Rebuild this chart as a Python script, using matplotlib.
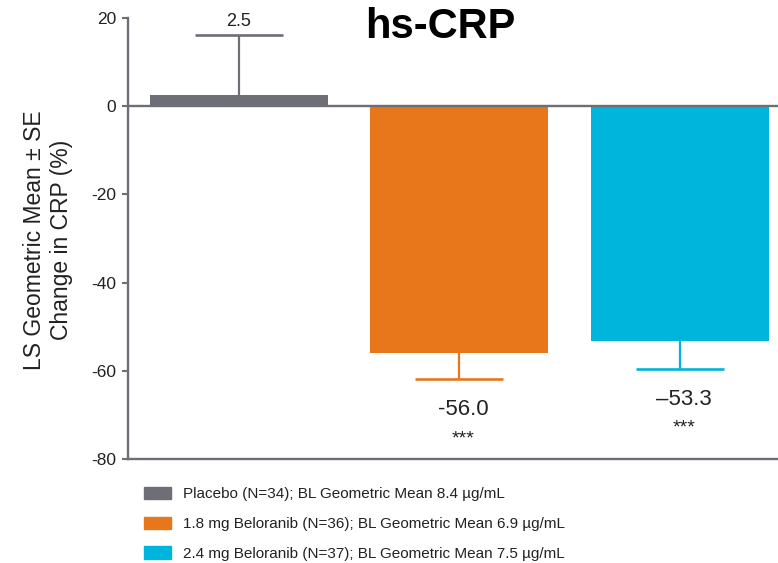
import matplotlib
matplotlib.use("Agg")
import matplotlib.pyplot as plt
import numpy as np

plt.rcParams['font.family'] = ['Liberation Sans', 'DejaVu Sans']

groups = ["Placebo (N=34); BL Geometric Mean 8.4 \u00b5g/mL",
          "1.8 mg Beloranib (N=36); BL Geometric Mean 6.9 \u00b5g/mL",
          "2.4 mg Beloranib (N=37); BL Geometric Mean 7.5 \u00b5g/mL"]
means = [2.5, -56.0, -53.3]
se = [13.6, 5.9, 6.2]
value_labels = ["2.5", "-56.0", "\u201353.3"]
sig = ["", "***", "***"]
colors = ["#6D6E76", "#E8761B", "#00B5DC"]
yticks = [20, 0, -20, -40, -60, -80]

W, H = 778, 563
fig = plt.figure(figsize=(W / 100, H / 100), dpi=100)
ax = fig.add_axes([128 / W, 1 - 459 / H, 1 - 128 / W, (459 - 18) / H])

x = np.arange(len(means))
spine_col = "#6D6E76"
ax.bar(x, means, width=0.807, color=colors, zorder=2)
for xi, m, e, c in zip(x, means, se, colors):
    end = m + e if m >= 0 else m - e
    yerr = [[0], [e]] if m >= 0 else [[e], [0]]
    ax.errorbar([xi], [m], yerr=yerr, fmt='none', ecolor=c, elinewidth=1.6,
                capsize=0, zorder=1)
    ax.plot([xi], [end], marker='_', markersize=63, markeredgewidth=1.9,
            color=c, zorder=1, linestyle='none')

ax.axhline(0, color=spine_col, lw=1.7, zorder=3)
ax.set_xlim(-0.503, 2.445)
ax.set_ylim(-80, 20)
ax.set_yticks(yticks)
ax.set_yticklabels([str(t) if t >= 0 else "-" + str(-t) for t in yticks])
ax.set_xticks([])
for s in ["top", "right"]:
    ax.spines[s].set_visible(False)
for s in ["left", "bottom"]:
    ax.spines[s].set_color(spine_col)
    ax.spines[s].set_linewidth(1.7)
ax.tick_params(axis='y', colors=spine_col, labelcolor="#222222", length=4.5,
               width=1.5, labelsize=12.5, pad=4)

# value labels
for xi, m, e, lab, s in zip(x, means, se, value_labels, sig):
    if m >= 0:
        ax.annotate(lab, (xi, m + e), xytext=(0, 4), textcoords='offset points',
                    ha='center', va='bottom', fontsize=13, color="#222222")
    else:
        ax.annotate(lab, (xi, m - e), xytext=(3, -22), textcoords='offset points',
                    ha='center', va='center', fontsize=16, color="#222222")
        ax.annotate(s, (xi, m - e), xytext=(3, -43), textcoords='offset points',
                    ha='center', va='center', fontsize=14, color="#222222")

fig.text(440 / W, 1 - 38 / H, "hs-CRP", ha='center', va='baseline',
         fontsize=30, fontweight='bold', color='black')

fig.text(48 / W, 1 - 240 / H, "LS Geometric Mean \u00b1 SE\nChange in CRP (%)",
         rotation=90, ha='center', va='center', fontsize=16.5,
         linespacing=1.2, color="#222222", multialignment='center')

handles = [plt.Rectangle((0, 0), 1, 1, color=c) for c in colors]
leg = fig.legend(handles, groups, loc='upper left',
                 bbox_to_anchor=(144 / W, 1 - 487 / H),
                 frameon=False, fontsize=11, handlelength=1.75,
                 handleheight=0.85, handletextpad=0.8, labelspacing=1.0,
                 borderpad=0, borderaxespad=0)
for t in leg.get_texts():
    t.set_color("#222222")

fig.savefig("out.png", dpi=100)
